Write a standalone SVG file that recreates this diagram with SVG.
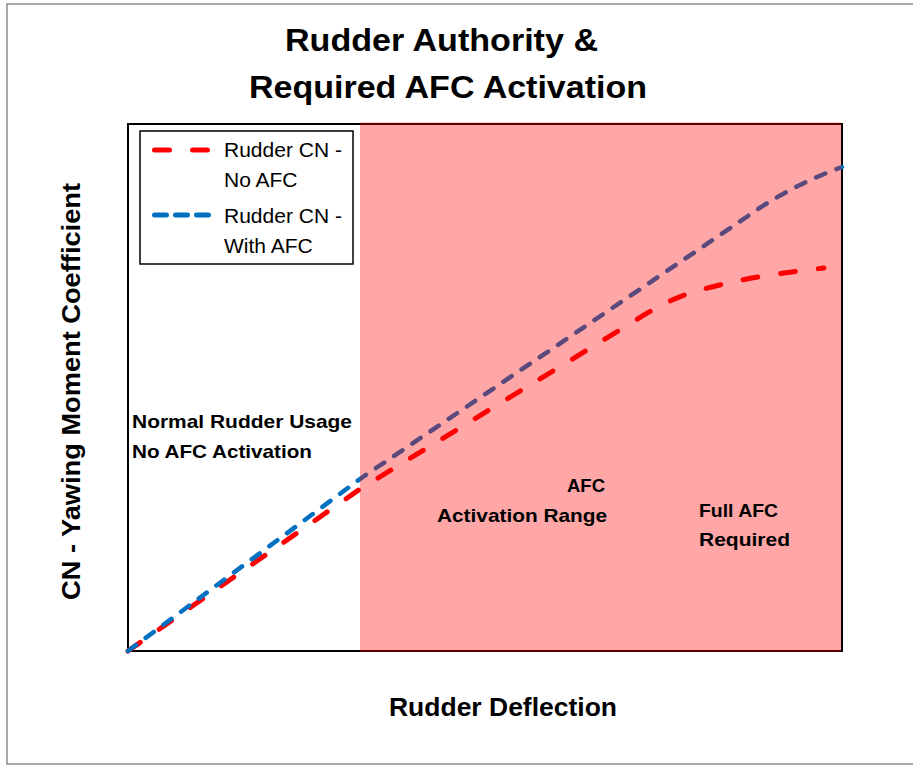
<svg xmlns="http://www.w3.org/2000/svg" width="913" height="766" viewBox="0 0 913 766">
  <defs>
    <style>
      .t { font-family: "Liberation Sans", Arial, sans-serif; fill: #000; }
      .b { font-weight: bold; }
      .red { fill: none; stroke: #FF0000; stroke-width: 5; stroke-linecap: round; stroke-linejoin: round; stroke-dasharray: 15 23; }
      .blue { fill: none; stroke: #0070C0; stroke-width: 4.5; stroke-linecap: round; stroke-linejoin: round; stroke-dasharray: 10 12; }
    </style>
  </defs>
  <rect x="0" y="0" width="913" height="766" fill="#FFFFFF"/>
  <g id="frame">
    <rect x="7" y="4" width="930" height="760" fill="#FFFFFF" stroke="#8C8C8C" stroke-width="1.5"/>
  </g>
  <g id="title">
    <text class="t b" x="285" y="51" font-size="32" textLength="313" lengthAdjust="spacingAndGlyphs">Rudder Authority &amp;</text>
    <text class="t b" x="249" y="98" font-size="32" textLength="398" lengthAdjust="spacingAndGlyphs">Required AFC Activation</text>
  </g>
  <g id="plot-area">
    <rect x="128" y="124" width="714" height="527" fill="#FFFFFF" stroke="#000000" stroke-width="2"/>
  </g>
  <g id="connectors">
    <path id="curve-no-afc" class="red" d="M128,651 L360,489 L628,325 C653,309 674,297 700,290 C730,282 760,275 824,268"/>
    <path id="curve-with-afc" class="blue" d="M128,651 L360,479 L748,216 Q790,186 842,167"/>
  </g>
  <g id="afc-region">
    <rect x="360" y="122.5" width="481" height="529.5" fill="#FF0000" fill-opacity="0.35"/>
  </g>
  <g id="legend">
    <rect x="140" y="131" width="213" height="133" fill="#FFFFFF" stroke="#000000" stroke-width="1.5"/>
    <path d="M154.5,150 H209.5" fill="none" stroke="#FF0000" stroke-width="5" stroke-linecap="round" stroke-dasharray="15 23"/>
    <text class="t" x="224" y="157" font-size="21">Rudder CN -</text>
    <text class="t" x="224" y="187" font-size="21">No AFC</text>
    <path d="M154.5,215 H210" fill="none" stroke="#0070C0" stroke-width="5" stroke-linecap="round" stroke-dasharray="12 9"/>
    <text class="t" x="224" y="223" font-size="21">Rudder CN -</text>
    <text class="t" x="224" y="253" font-size="21">With AFC</text>
  </g>
  <g id="label-normal">
    <text class="t b" x="132" y="428" font-size="19" textLength="220" lengthAdjust="spacingAndGlyphs">Normal Rudder Usage</text>
    <text class="t b" x="132" y="458" font-size="19" textLength="180" lengthAdjust="spacingAndGlyphs">No AFC Activation</text>
  </g>
  <g id="label-activation">
    <text class="t b" x="567" y="492" font-size="19" textLength="38" lengthAdjust="spacingAndGlyphs">AFC</text>
    <text class="t b" x="437" y="522" font-size="19" textLength="170" lengthAdjust="spacingAndGlyphs">Activation Range</text>
  </g>
  <g id="label-full">
    <text class="t b" x="699" y="517" font-size="19" textLength="79" lengthAdjust="spacingAndGlyphs">Full AFC</text>
    <text class="t b" x="699" y="546" font-size="19" textLength="91" lengthAdjust="spacingAndGlyphs">Required</text>
  </g>
  <g id="axis-labels">
    <text class="t b" x="389" y="716" font-size="26" textLength="228" lengthAdjust="spacingAndGlyphs">Rudder Deflection</text>
    <text class="t b" transform="translate(80,600) rotate(-90)" x="0" y="0" font-size="25" textLength="417" lengthAdjust="spacingAndGlyphs">CN - Yawing Moment Coefficient</text>
  </g>
</svg>
